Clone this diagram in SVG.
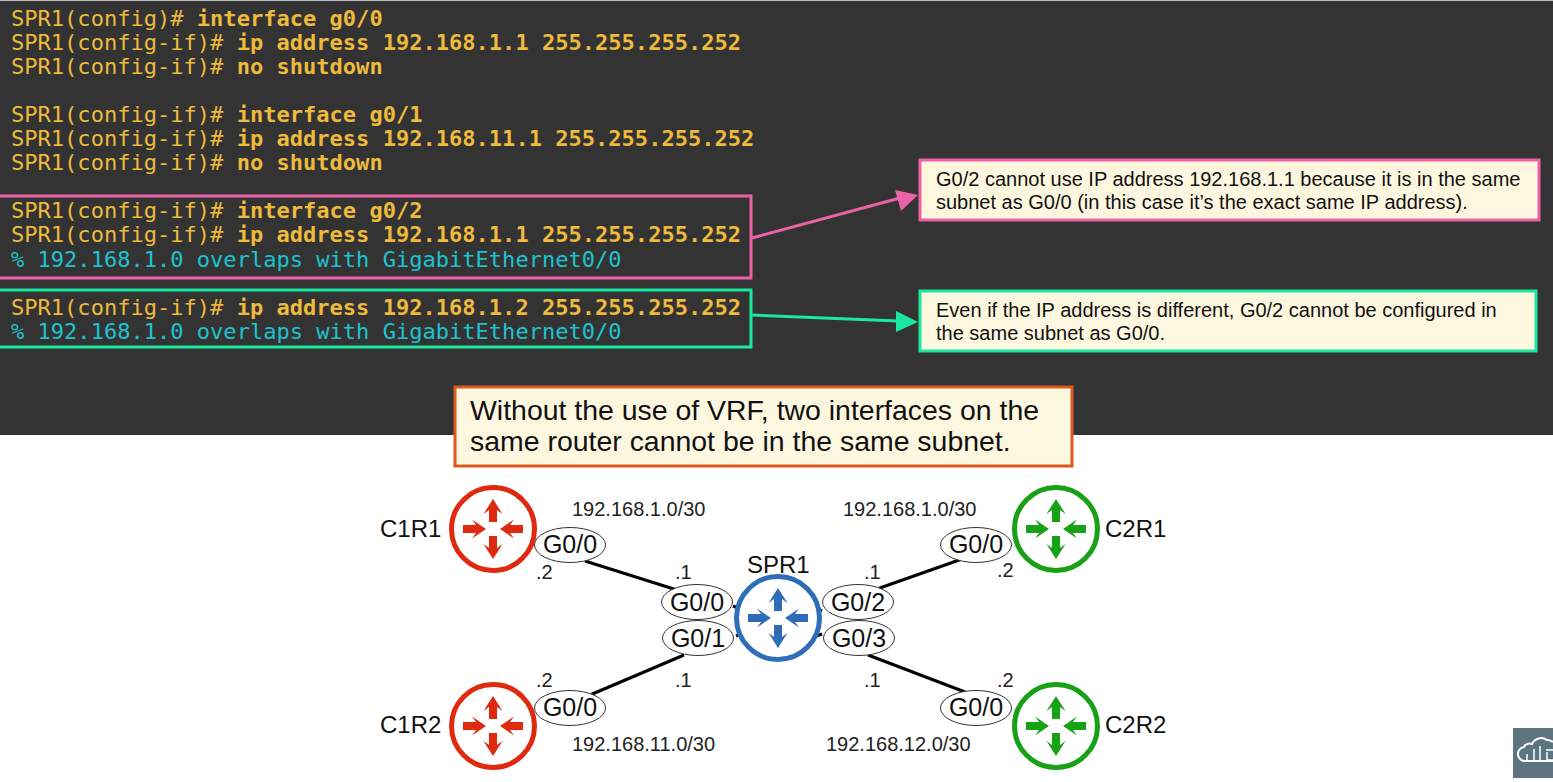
<svg xmlns="http://www.w3.org/2000/svg" width="1553" height="782" viewBox="0 0 1553 782">
<style>
.t{font-family:"DejaVu Sans Mono","Liberation Mono",monospace;font-size:22.060px;fill:#eeba3c}
.t tspan{font-weight:bold}
.c{fill:#1cc3cf}
.call{font-family:"Liberation Sans",Arial,sans-serif;font-size:20px;fill:#111}
.big{font-family:"Liberation Sans",Arial,sans-serif;font-size:28.450px;fill:#111}
.l{font-family:"Liberation Sans",Arial,sans-serif;font-size:24px;fill:#111}
.s{font-family:"Liberation Sans",Arial,sans-serif;font-size:20px;fill:#222}
.e{fill:#fff;stroke:#333;stroke-width:1}
.i{font-family:"Liberation Sans",Arial,sans-serif;font-size:25px;fill:#111;text-anchor:middle}
.link{stroke:#000;stroke-width:3;fill:none}
</style>
<defs>
<g id="router">
<circle r="41.500" fill="#fff" stroke="currentColor" stroke-width="5"/>
<g fill="currentColor">
<path d="M-4 -7V-19L-9.500 -15L0 -30L9.500 -15L4 -19V-7Z"/>
<path d="M-4 7V19L-9.500 15L0 30L9.500 15L4 19V7Z"/>
<path d="M-30 -4H-17L-21 -9.500L-7 0L-21 9.500L-17 4H-30Z"/>
<path d="M30 -4H17L21 -9.500L7 0L21 9.500L17 4H30Z"/>
</g>
</g>
</defs>
<rect width="1553" height="782" fill="#fff"/>
<rect y="1" width="1553" height="434" fill="#333333"/>
<rect width="1553" height="1" fill="#bbb"/>
<g id="cli">
<text class="t" x="11" y="26">SPR1(config)# <tspan>interface g0/0</tspan></text>
<text class="t" x="11" y="50">SPR1(config-if)# <tspan>ip address 192.168.1.1 255.255.255.252</tspan></text>
<text class="t" x="11" y="74">SPR1(config-if)# <tspan>no shutdown</tspan></text>
<text class="t" x="11" y="122">SPR1(config-if)# <tspan>interface g0/1</tspan></text>
<text class="t" x="11" y="146">SPR1(config-if)# <tspan>ip address 192.168.11.1 255.255.255.252</tspan></text>
<text class="t" x="11" y="170">SPR1(config-if)# <tspan>no shutdown</tspan></text>
<text class="t" x="11" y="218">SPR1(config-if)# <tspan>interface g0/2</tspan></text>
<text class="t" x="11" y="242">SPR1(config-if)# <tspan>ip address 192.168.1.1 255.255.255.252</tspan></text>
<text class="t c" x="11" y="267">% 192.168.1.0 overlaps with GigabitEthernet0/0</text>
<text class="t" x="11" y="315">SPR1(config-if)# <tspan>ip address 192.168.1.2 255.255.255.252</tspan></text>
<text class="t c" x="11" y="339">% 192.168.1.0 overlaps with GigabitEthernet0/0</text>
</g>
<g id="connectors">
<path d="M752 238L900 198" stroke="#ec62a6" stroke-width="3" fill="none"/>
<path d="M918 195L895 190L901 211Z" fill="#ec62a6"/>
<path d="M752 315L898 321" stroke="#1be8a0" stroke-width="3" fill="none"/>
<path d="M918 322L896 311L896 332Z" fill="#1be8a0"/>
<path class="link" d="M585 561L677 590"/>
<path class="link" d="M684 655L590 695"/>
<path class="link" d="M877 589L962 559"/>
<path class="link" d="M868 655L965 692"/>
<path class="link" d="M733 606L738 608M736 636L741 634M818 609L822 611M816 636L822 634"/>
</g>
<g id="hl1"><rect x="-3" y="196" width="754" height="82" fill="none" stroke="#ec62a6" stroke-width="3"/></g>
<g id="hl2"><rect x="-3" y="290" width="754" height="57" fill="none" stroke="#1be8a0" stroke-width="3"/></g>
<g id="note1">
<rect x="920" y="160" width="619" height="60" fill="#fef7e0" stroke="#ec62a6" stroke-width="3"/>
<text class="call" x="936" y="186">G0/2 cannot use IP address 192.168.1.1 because it is in the same</text>
<text class="call" x="936" y="209">subnet as G0/0 (in this case it’s the exact same IP address).</text>
</g>
<g id="note2">
<rect x="920" y="291" width="616" height="60" fill="#fef7e0" stroke="#1be8a0" stroke-width="3"/>
<text class="call" x="936" y="317">Even if the IP address is different, G0/2 cannot be configured in</text>
<text class="call" x="936" y="340">the same subnet as G0/0.</text>
</g>
<g id="note3">
<rect x="455" y="387" width="617" height="79" fill="#fef7e0" stroke="#dd5a1c" stroke-width="3"/>
<text class="big" x="470" y="420">Without the use of VRF, two interfaces on the</text>
<text class="big" x="470" y="451">same router cannot be in the same subnet.</text>
</g>
<g id="C1R1" color="#df2a10"><use href="#router" x="493" y="529"/><text class="l" x="380" y="537">C1R1</text></g>
<g id="C1R2" color="#df2a10"><use href="#router" x="493" y="726"/><text class="l" x="380" y="733">C1R2</text></g>
<g id="C2R1" color="#17a117"><use href="#router" x="1056" y="529"/><text class="l" x="1105" y="537">C2R1</text></g>
<g id="C2R2" color="#17a117"><use href="#router" x="1056" y="726"/><text class="l" x="1105" y="733">C2R2</text></g>
<g id="SPR1" color="#2f6db8"><use href="#router" x="778" y="618"/><text class="l" x="747" y="573">SPR1</text></g>
<g id="if-c1r1"><ellipse class="e" cx="570" cy="545" rx="35.500" ry="17.500"/><text class="i" x="570" y="553">G0/0</text></g>
<g id="if-c1r2"><ellipse class="e" cx="570" cy="708" rx="35.500" ry="17.500"/><text class="i" x="570" y="716">G0/0</text></g>
<g id="if-c2r1"><ellipse class="e" cx="976" cy="545" rx="35.500" ry="17.500"/><text class="i" x="976" y="553">G0/0</text></g>
<g id="if-c2r2"><ellipse class="e" cx="976" cy="708" rx="35.500" ry="17.500"/><text class="i" x="976" y="716">G0/0</text></g>
<g id="if-g00"><ellipse class="e" cx="697" cy="602" rx="35.500" ry="17.500"/><text class="i" x="697" y="611">G0/0</text></g>
<g id="if-g01"><ellipse class="e" cx="698" cy="638" rx="35.500" ry="17.500"/><text class="i" x="698" y="647">G0/1</text></g>
<g id="if-g02"><ellipse class="e" cx="858" cy="602" rx="35.500" ry="17.500"/><text class="i" x="858" y="611">G0/2</text></g>
<g id="if-g03"><ellipse class="e" cx="859" cy="638" rx="35.500" ry="17.500"/><text class="i" x="859" y="647">G0/3</text></g>
<g id="labels">
<text class="s" x="572" y="516">192.168.1.0/30</text>
<text class="s" x="843" y="516">192.168.1.0/30</text>
<text class="s" x="572" y="751">192.168.11.0/30</text>
<text class="s" x="826" y="751">192.168.12.0/30</text>
<text class="s" x="536" y="579">.2</text>
<text class="s" x="675" y="579">.1</text>
<text class="s" x="864" y="579">.1</text>
<text class="s" x="997" y="577">.2</text>
<text class="s" x="536" y="687">.2</text>
<text class="s" x="675" y="687">.1</text>
<text class="s" x="864" y="687">.1</text>
<text class="s" x="997" y="687">.2</text>
</g>
<g id="logo">
<rect x="1513" y="728" width="40" height="50" fill="#5b7480"/>
<path d="M1553 761H1526a7 7 0 0 1 -2 -14a6 6 0 0 1 8 -3a10 10 0 0 1 15 -4a9 9 0 0 1 6 2" fill="none" stroke="#fff" stroke-width="2"/>
<path d="M1527 760v-6M1540 760v-14M1534 760v-11M1547 752v8h6M1546 750h7" fill="none" stroke="#fff" stroke-width="1.500"/>
</g>
</svg>
